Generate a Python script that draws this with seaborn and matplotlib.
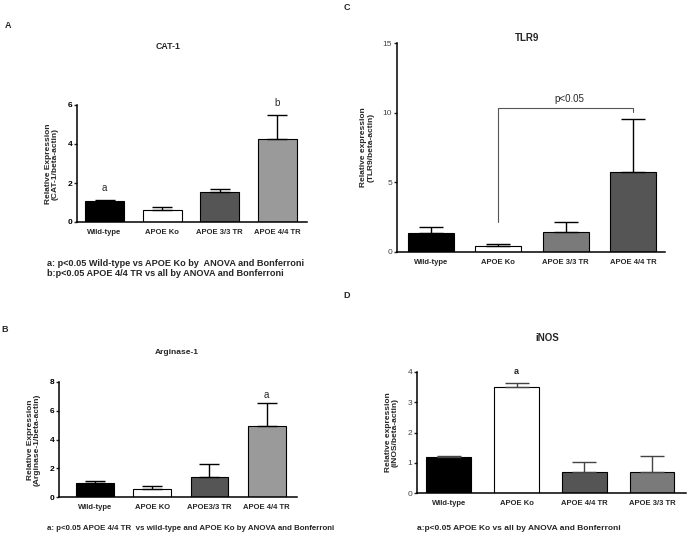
import numpy as np
import matplotlib
matplotlib.use("Agg")
import matplotlib.pyplot as plt
import seaborn as sns

sns.set_style("white")
plt.rcParams['font.family'] = ['Liberation Sans', 'DejaVu Sans']

W, H = 689, 535

# ---------- data ----------
cat_a = ['Wild-type', 'APOE Ko', 'APOE 3/3 TR', 'APOE 4/4 TR']
mean_a = [1.07, 0.64, 1.53, 4.26]
err_a = [0.08, 0.13, 0.14, 1.24]

cat_b = ['Wild-type', 'APOE KO', 'APOE3/3 TR', 'APOE 4/4 TR']
mean_b = [1.00, 0.56, 1.42, 4.92]
err_b = [0.11, 0.23, 0.85, 1.62]

cat_c = ['Wild-type', 'APOE Ko', 'APOE 3/3 TR', 'APOE 4/4 TR']
mean_c = [1.36, 0.43, 1.44, 5.74]
err_c = [0.43, 0.12, 0.71, 3.83]

cat_d = ['Wild-type', 'APOE Ko', 'APOE 4/4 TR', 'APOE 3/3 TR']
mean_d = [1.20, 3.50, 0.69, 0.70]
err_d = [0.03, 0.15, 0.34, 0.53]

col_a = ['#000000', '#ffffff', '#555555', '#9a9a9a']
col_b = ['#000000', '#ffffff', '#555555', '#9a9a9a']
col_c = ['#000000', '#ffffff', '#7a7a7a', '#555555']
col_d = ['#000000', '#ffffff', '#555555', '#7a7a7a']


def px_axes(fig, left, right, top, bottom):
    return fig.add_axes([left / W, 1 - bottom / H, (right - left) / W, (bottom - top) / H])


def ftext(fig, x, y, s, **kw):
    fig.text(x / W, 1 - y / H, s, **kw)


def panel(ax, cats, means, errs, cols, ylim, yticks, ylabel, xlim, width, cap,
          bold_ticks=True, ecolor='black', tickcolor='black'):
    sns.barplot(x=cats, y=means, hue=cats, palette=cols, legend=False, ax=ax,
                errorbar=None, width=width, edgecolor='black', linewidth=0.8)
    ax.errorbar(np.arange(len(cats)), means, yerr=[np.zeros(len(errs)), errs],
                fmt='none', ecolor=ecolor, elinewidth=1.0, capsize=cap, capthick=1.0)
    ax.set_ylim(*ylim)
    ax.set_xlim(*xlim)
    ax.set_yticks(yticks)
    ax.set_yticklabels([str(t) for t in yticks], fontsize=6,
                       fontweight='bold' if bold_ticks else 'normal', color=tickcolor)
    ax.set_xticks(range(len(cats)))
    ax.set_xticklabels(cats, fontsize=5.5, fontweight='bold')
    ax.tick_params(axis='y', direction='out', length=2.5, width=1, pad=1, left=True)
    ax.tick_params(axis='x', length=0, pad=5)
    ax.set_xlabel('')
    ax.set_ylabel(ylabel, fontsize=6, fontweight='bold', linespacing=1.0, labelpad=6)
    sns.despine(ax=ax)
    for s in ['left', 'bottom']:
        ax.spines[s].set_linewidth(1.1)
        ax.spines[s].set_color('black')
    ax.grid(False)


fig = plt.figure(figsize=(W / 100, H / 100), dpi=100)
fig.patch.set_facecolor('white')

# ---------- A: CAT-1 ----------
ax_a = px_axes(fig, 77, 307, 105, 222)
panel(ax_a, cat_a, mean_a, err_a, col_a, (0, 6), [0, 2, 4, 6],
      'Relative Expression\n(CAT-1/beta-actin)', (-0.48, 3.52), 0.68, 7)
ax_a.text(0, 1.72, 'a', ha='center', va='center', fontsize=7)
ax_a.text(3, 6.1, 'b', ha='center', va='center', fontsize=7, clip_on=False)
ftext(fig, 8, 26, 'A', fontsize=6.5, fontweight='bold', ha='center', va='center')
ftext(fig, 168, 47, 'CAT-1', fontsize=6.3, fontweight='bold', ha='center', va='center')
ftext(fig, 47, 263, 'a: p<0.05 Wild-type vs APOE Ko by  ANOVA and Bonferroni',
      fontsize=6.6, fontweight='bold', ha='left', va='center')
ftext(fig, 47, 274, 'b:p<0.05 APOE 4/4 TR vs all by ANOVA and Bonferroni',
      fontsize=6.6, fontweight='bold', ha='left', va='center')

# ---------- C: TLR9 ----------
ax_c = px_axes(fig, 397, 665, 43, 252)
panel(ax_c, cat_c, mean_c, err_c, col_c, (0, 15), [0, 5, 10, 15],
      'Relative expression\n(TLR9/beta-actin)', (-0.5, 3.47), 0.68, 8.3,
      bold_ticks=False, tickcolor='#444444')
ax_c.plot([1, 1, 3, 3], [2.15, 10.33, 10.33, 10.05], color='#555555', lw=0.8)
ax_c.text(2.05, 10.95, 'p<0.05', ha='center', va='center', fontsize=7)
ftext(fig, 347, 8, 'C', fontsize=6.5, fontweight='bold', ha='center', va='center')
ftext(fig, 527, 38, 'TLR9', fontsize=7, fontweight='bold', ha='center', va='center')

# ---------- B: Arginase-1 ----------
ax_b = px_axes(fig, 59, 297, 382, 497)
panel(ax_b, cat_b, mean_b, err_b, col_b, (0, 8), [0, 2, 4, 6, 8],
      'Relative Expression\n(Arginase-1/beta-actin)', (-0.63, 3.53), 0.66, 7)
ax_b.text(3, 7.1, 'a', ha='center', va='center', fontsize=7)
ftext(fig, 5, 329, 'B', fontsize=6.5, fontweight='bold', ha='center', va='center')
ftext(fig, 177, 352, 'Arginase-1', fontsize=6, fontweight='bold', ha='center', va='center')
ftext(fig, 47, 529, 'a: p<0.05 APOE 4/4 TR  vs wild-type and APOE Ko by ANOVA and Bonferroni',
      fontsize=5.65, fontweight='bold', ha='left', va='center')

# ---------- D: iNOS ----------
ax_d = px_axes(fig, 417, 686, 372, 493)
panel(ax_d, cat_d, mean_d, err_d, col_d, (0, 4), [0, 1, 2, 3, 4],
      'Relative expression\n(iNOS/beta-actin)', (-0.47, 3.5), 0.66, 8.3,
      bold_ticks=False, ecolor='#444444', tickcolor='#444444')
ax_d.text(1, 4.0, 'a', ha='center', va='center', fontsize=6.5, fontweight='bold')
ftext(fig, 347, 295, 'D', fontsize=6.5, fontweight='bold', ha='center', va='center')
ftext(fig, 547, 338, 'iNOS', fontsize=7, fontweight='bold', ha='center', va='center')
ftext(fig, 417, 529, 'a:p<0.05 APOE Ko vs all by ANOVA and Bonferroni',
      fontsize=6, fontweight='bold', ha='left', va='center')

fig.savefig('out.png', dpi=100, facecolor='white')
